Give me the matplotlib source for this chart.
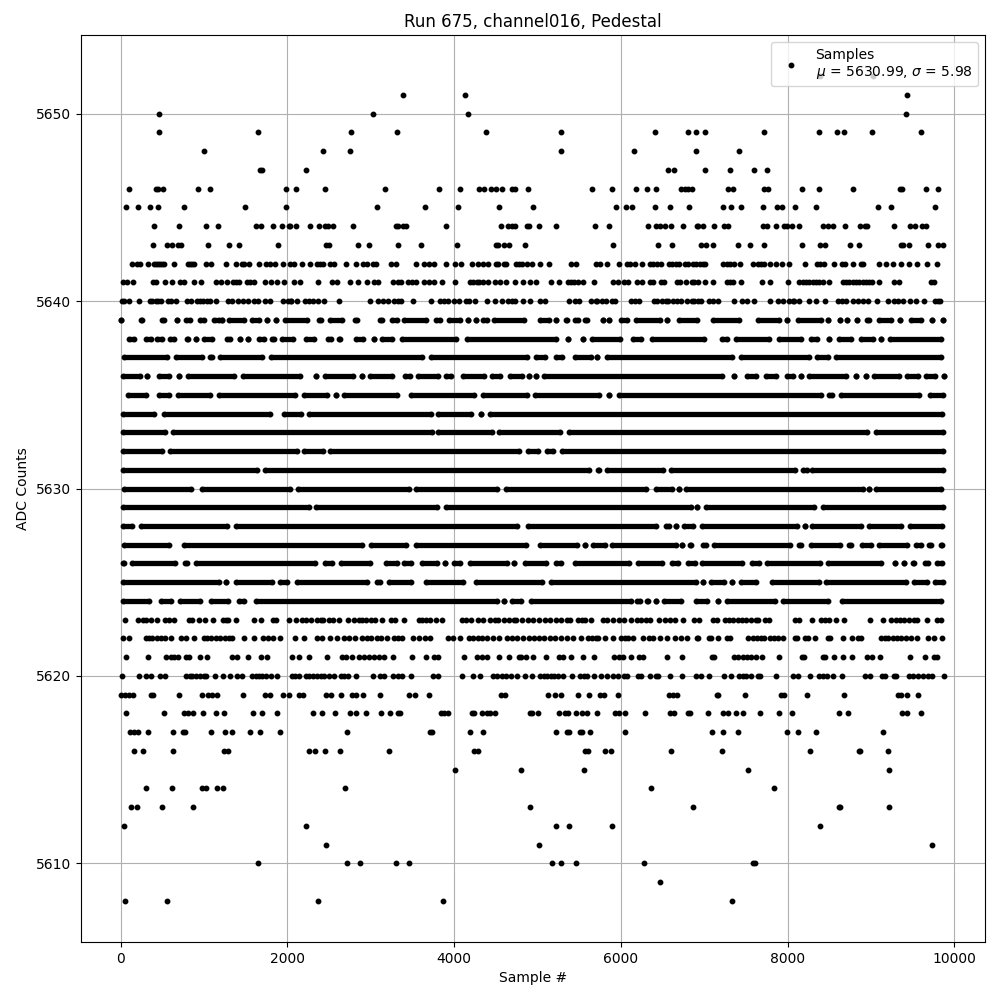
import matplotlib
matplotlib.use("Agg")
import matplotlib.pyplot as plt

# Sample numbers, one list per ADC level (sparse rows)
s5652 = [8392, 9028]
s5651 = [3388, 4132, 9436]
s5650 = [460, 3028, 4168, 9424]
s5649 = [460, 1648, 2764, 3316, 4384, 5284, 6412, 6808, 6904, 7012, 7720, 8380, 8596, 8680, 9016, 9604]
s5648 = [1000, 2428, 2752, 5284, 6160, 6904, 7420]
s5647 = [1668, 1692, 2224, 6568, 6640, 7012, 7312, 7600, 7756]
s5646 = [100, 420, 444, 508, 928, 1072, 1984, 2104, 2452, 3172, 3820, 4072, 4300, 4360, 4444, 4504, 4576, 4696,
         4728, 4888, 5656, 5896, 6184, 6316, 6424, 6724, 6772, 6808, 6856, 7288, 7348, 7720, 7768, 8176, 8380, 8788,
         9352, 9376, 9664, 9808]
s5645 = [64, 208, 352, 448, 760, 1492, 1984, 3076, 3652, 4048, 4540, 4948, 5944, 6064, 6136, 6412, 6592, 6820,
         7228, 7324, 7444, 7708, 7876, 7936, 8092, 8344, 9088, 9244, 9772]
s5644 = [400, 700, 1024, 1168, 1624, 1684, 1828, 1936, 2020, 2032, 2104, 2272, 2380, 2452, 2488, 2548, 2788, 3304,
         3328, 3388, 3428, 3904, 4564, 4648, 4696, 4732, 4876, 4900, 5020, 5224, 5692, 5860, 6328, 6424, 6472, 6532,
         6604, 6748, 6916, 6928, 6988, 7120, 7240, 7288, 7708, 7756, 7864, 7960, 7996, 8056, 8140, 8428, 8488, 8548,
         8692, 8872, 8932, 8956, 9280, 9472, 9532, 9616, 9664]
s5643 = [388, 556, 616, 688, 724, 1048, 1300, 1420, 1888, 2464, 2500, 2848, 2980, 3328, 3604, 4036, 4504, 4528,
         4600, 4660, 4852, 5908, 6448, 6616, 6964, 7024, 7108, 7408, 7552, 7720, 8176, 8392, 8452, 8752, 8860, 9364,
         9388, 9460, 9688, 9808, 9868]
s5642 = [136, 196, 232, 328, 400, 425, 450, 475, 500, 520, 640, 808, 835, 860, 880, 1024, 1084, 1264, 1384, 1456,
         1480, 1540, 1664, 1748, 1788, 1852, 1948, 2032, 2080, 2176, 2272, 2356, 2390, 2428, 2512, 2560, 2704, 2824,
         2908, 2956, 3028, 3068, 3244, 3304, 3544, 3640, 3700, 3760, 3904, 4012, 4084, 4216, 4288, 4348, 4408, 4504,
         4528, 4600, 4628, 4744, 4780, 4820, 4880, 4936, 5032, 5140, 5404, 5464, 5704, 5748, 5836, 5980, 6076, 6110,
         6172, 6256, 6352, 6392, 6430, 6484, 6580, 6610, 6660, 6700, 6772, 6810, 6860, 6900, 6950, 6980, 7008, 7228,
         7270, 7310, 7360, 7428, 7588, 7640, 7680, 7720, 7788, 7860, 7928, 8012, 8212, 8348, 8390, 8436, 8560, 8656,
         8690, 8788, 8884, 8908, 9100, 9184, 9268, 9364, 9460, 9556, 9672, 9796]
s5641 = [28, 76, 148, 388, 424, 532, 616, 712, 760, 880, 960, 1144, 1204, 1276, 1348, 1390, 1420, 1516, 1552, 1600,
         1732, 1804, 1876, 1960, 2080, 2152, 2368, 2536, 2596, 2752, 2848, 2956, 3040, 3088, 3268, 3328, 3368, 3448,
         3500, 3540, 3640, 3700, 3760, 3856, 4012, 4192, 4230, 4270, 4300, 4348, 4408, 4488, 4548, 4628, 4736, 4828,
         4912, 4984, 5164, 5260, 5368, 5400, 5440, 5490, 5548, 5680, 5908, 5968, 6040, 6088, 6196, 6256, 6352, 6388,
         6484, 6524, 6676, 6712, 6784, 6848, 6880, 6920, 7008, 7108, 7276, 7310, 7350, 7440, 7696, 7792, 8008, 8140,
         8180, 8220, 8260, 8300, 8340, 8380, 8420, 8500, 8660, 8700, 8740, 8780, 8820, 8860, 8900, 8940, 8980, 9010,
         9100, 9280, 9340, 9724, 9760]
s5640 = [16, 40, 100, 220, 348, 380, 420, 450, 488, 568, 600, 660, 796, 848, 916, 950, 988, 1040, 1068, 1144, 1288,
         1336, 1408, 1468, 1528, 1600, 1648, 1736, 1788, 1948, 2008, 2040, 2048, 2116, 2212, 2260, 2308, 2368, 2440,
         2620, 2992, 3088, 3148, 3208, 3280, 3328, 3368, 3508, 3724, 3832, 3880, 3928, 4000, 4060, 4144, 4180, 4248,
         4396, 4492, 4576, 4648, 4690, 4728, 4828, 4912, 5032, 5092, 5380, 5452, 5500, 5644, 5700, 5716, 5776, 5820,
         5896, 5932, 6124, 6172, 6220, 6400, 6440, 6490, 6540, 6568, 6628, 6670, 6728, 6796, 6848, 6880, 6920, 6960,
         7060, 7100, 7168, 7360, 7456, 7508, 7600, 7792, 7888, 7948, 8020, 8060, 8080, 8140, 8260, 8344, 8452, 8608,
         8650, 8700, 8788, 8848, 8908, 8968, 9076, 9208, 9280, 9320, 9390, 9472, 9544, 9640, 9772, 9800, 9828]
s5623 = [52, 208, 270, 310, 370, 436, 532, 580, 636, 820, 860, 940, 1012, 1108, 1228, 1260, 1290, 1388, 1600, 1684,
         1828, 1864, 2020, 2104, 2176, 2230, 2290, 2360, 2400, 2428, 2500, 2548, 2620, 2728, 2800, 2860, 2900, 2950,
         3010, 3052, 3136, 3244, 3292, 3400, 3580, 3620, 3660, 3710, 3784, 3856, 4096, 4140, 4200, 4290, 4348, 4428,
         4490, 4530, 4600, 4660, 4720, 4748, 4820, 4890, 4948, 5020, 5090, 5150, 5220, 5280, 5350, 5390, 5488, 5530,
         5576, 5648, 5788, 5830, 5908, 5980, 6040, 6124, 6190, 6240, 6300, 6348, 6460, 6532, 6590, 6652, 6748, 6880,
         6940, 7108, 7156, 7252, 7300, 7350, 7400, 7450, 7500, 7560, 7620, 7648, 7732, 7780, 8092, 8140, 8296, 8404,
         8450, 8500, 8584, 8680, 8992, 9144, 9244, 9300, 9350, 9400, 9460, 9520, 9556, 9676, 9796, 9844]
s5622 = [28, 100, 304, 340, 380, 440, 490, 530, 604, 724, 784, 880, 1000, 1040, 1090, 1140, 1190, 1250, 1300, 1340,
         1480, 1600, 1708, 1768, 1828, 1912, 2092, 2200, 2356, 2416, 2512, 2596, 2680, 2740, 2810, 2900, 2960, 3010,
         3080, 3130, 3200, 3280, 3330, 3376, 3508, 3580, 3652, 3712, 3928, 3988, 4072, 4180, 4230, 4290, 4340, 4396,
         4468, 4540, 4636, 4700, 4760, 4830, 4900, 4960, 5020, 5080, 5150, 5216, 5280, 5350, 5428, 5524, 5608, 5650,
         5700, 5728, 5812, 5908, 6004, 6050, 6088, 6148, 6268, 6340, 6388, 6472, 6556, 6652, 6724, 6796, 6916, 6928,
         7060, 7084, 7168, 7276, 7312, 7528, 7580, 7630, 7680, 7720, 7790, 7840, 7880, 7948, 8092, 8116, 8212, 8248,
         8332, 8488, 8512, 8668, 8776, 8848, 8884, 9124, 9170, 9210, 9260, 9310, 9360, 9420, 9480, 9548, 9688, 9760,
         9856]
s5621 = [64, 328, 544, 604, 640, 688, 784, 820, 952, 1036, 1336, 1396, 1528, 1684, 1756, 2056, 2140, 2260, 2476,
         2656, 2700, 2776, 2860, 2920, 2980, 3040, 3100, 3160, 3268, 3496, 3664, 3760, 3808, 4120, 4276, 4336, 4396,
         4540, 4660, 4780, 4804, 4864, 4948, 5104, 5260, 5308, 5404, 5548, 5680, 5920, 5980, 6028, 6124, 6220, 6268,
         6556, 6736, 7096, 7120, 7360, 7410, 7460, 7510, 7560, 7620, 7688, 7900, 8176, 8200, 8428, 8452, 8560, 8668,
         8776, 8956, 9016, 9112, 9472, 9652, 9760, 9796]
s5620 = [16, 220, 304, 364, 472, 532, 784, 830, 860, 900, 950, 1000, 1030, 1128, 1228, 1312, 1396, 1456, 1576, 1620,
         1660, 1700, 1750, 1800, 1876, 2056, 2090, 2140, 2224, 2260, 2308, 2356, 2400, 2440, 2500, 2564, 2644, 2680,
         2728, 2824, 3028, 3112, 3160, 3268, 3328, 3380, 3484, 3748, 3808, 4096, 4228, 4312, 4468, 4510, 4570, 4620,
         4680, 4756, 4852, 4936, 5032, 5080, 5120, 5160, 5200, 5250, 5308, 5416, 5512, 5560, 5600, 5680, 5764, 5836,
         5908, 5968, 6040, 6076, 6208, 6244, 6352, 6424, 6448, 6592, 6736, 6900, 6964, 7060, 7240, 7324, 7420, 7460,
         7500, 7564, 7648, 7672, 7864, 8068, 8128, 8272, 8380, 8420, 8470, 8548, 8656, 8932, 8992, 9136, 9172, 9280,
         9304, 9460, 9510, 9570, 9630, 9680, 9736, 9880]
s5619 = [4, 52, 100, 148, 364, 388, 700, 976, 1048, 1096, 1156, 1468, 1732, 1792, 1948, 2020, 2140, 2188, 2464, 2524,
         2644, 2776, 2824, 2908, 3112, 3460, 3532, 3700, 4564, 4612, 5128, 5212, 5284, 5488, 5620, 5752, 5800, 5968,
         6580, 6628, 6676, 7156, 7168, 7492, 7924, 7960, 8236, 8680, 9328, 9364, 9436, 9568]
s5618 = [64, 520, 760, 808, 868, 988, 1144, 1240, 1588, 1696, 1876, 2308, 2416, 2572, 2752, 2824, 2944, 3124, 3232,
         3328, 3348, 3844, 3880, 3928, 4216, 4240, 4336, 4396, 4428, 4492, 4912, 4932, 5008, 5260, 5332, 5368, 5464,
         5536, 5596, 5716, 5932, 5980, 6052, 6292, 6592, 6640, 6808, 6828, 7048, 7228, 7288, 7384, 7468, 7672, 7900,
         8056, 8620, 8728, 9376, 9436, 9604]
s5617 = [112, 160, 208, 328, 628, 748, 776, 1084, 1252, 1336, 1552, 1672, 1912, 2716, 3712, 3736, 4192, 4348, 5224,
         5356, 5380, 5512, 5536, 5632, 6052, 7096, 7228, 7408, 7996, 8128, 8344, 9148]
s5616 = [160, 268, 628, 1240, 1288, 2260, 2332, 2452, 2632, 3220, 4240, 4288, 5572, 5608, 5812, 5884, 6604, 7216,
         8272, 8860, 8872, 9208]
s5615 = [4012, 4804, 5560, 7528, 9220]
s5614 = [304, 616, 976, 1024, 1156, 1228, 2692, 6364, 7840]
s5613 = [124, 196, 496, 868, 4912, 6868, 8620, 8632, 9220]
s5612 = [40, 2224, 5224, 5380, 5896, 8392]
s5611 = [2464, 5020, 9736]
s5610 = [1648, 2716, 2872, 3304, 3460, 5176, 5284, 5464, 6280, 7588, 7612]
s5609 = [6472]
s5608 = [52, 556, 2368, 3868, 7336]

sparse_levels = [5652, 5651, 5650, 5649, 5648, 5647, 5646, 5645, 5644, 5643, 5642, 5641, 5640,
                 5623, 5622, 5621, 5620, 5619, 5618, 5617, 5616, 5615, 5614, 5613, 5612, 5611, 5610, 5609, 5608]
sparse_samples = [s5652, s5651, s5650, s5649, s5648, s5647, s5646, s5645, s5644, s5643, s5642, s5641, s5640,
                  s5623, s5622, s5621, s5620, s5619, s5618, s5617, s5616, s5615, s5614, s5613, s5612, s5611, s5610,
                  s5609, s5608]

# Rows 5624-5639 are too dense to tell the samples apart, so these are the
# (first, last) sample of each unbroken stretch of overlapping dots
r5639 = [(8, 8), (220, 292), (468, 548), (676, 676), (780, 828), (928, 1028), (1120, 1180), (1220, 1220), (1268, 1508),
         (1548, 1688), (1756, 1756), (1860, 1860), (1948, 2268), (2356, 2436), (2488, 2688), (2788, 2868), (3088, 3168),
         (3220, 3348), (3368, 3688), (3748, 3860), (3908, 4100), (4168, 4168), (4264, 4264), (4348, 4396), (4448, 4868),
         (5000, 5168), (5228, 5228), (5308, 5388), (5448, 5488), (5540, 5620), (5788, 5788), (5860, 5860), (5968, 6100),
         (6148, 6500), (6560, 6560), (6668, 6948), (7076, 7448), (7620, 7928), (7988, 7988), (8100, 8428), (8488, 8488),
         (8628, 8628), (8716, 8716), (8836, 8836), (8928, 9008), (9068, 9268), (9348, 9348), (9448, 9628), (9736, 9736),
         (9868, 9868)]
r5638 = [(76, 196), (308, 368), (408, 528), (568, 668), (768, 836), (876, 940), (968, 1128), (1248, 1348), (1436, 1436),
         (1528, 1528), (1628, 1748), (1788, 1868), (1908, 2100), (2196, 2348), (2488, 2528), (2596, 2668), (2796, 2940),
         (3040, 3040), (3108, 3288), (3348, 4048), (4128, 5248), (5368, 5368), (5548, 5548), (5628, 6020), (6116, 6268),
         (6348, 7028), (7188, 7300), (7348, 7808), (7868, 8196), (8256, 8380), (8496, 8496), (8588, 8788), (8856, 9060),
         (9116, 9116), (9196, 9868)]
r5637 = [(8, 588), (636, 1008), (1048, 1128), (1168, 1728), (1780, 3648), (3688, 4908), (4956, 5116), (5188, 5328),
         (5420, 5668), (5716, 5716), (5808, 7368), (7408, 8288), (8328, 8516), (8556, 9868)]
r5636 = [(0, 268), (320, 320), (428, 608), (700, 700), (780, 1388), (1440, 2188), (2340, 2340), (2420, 2820),
         (2892, 2892), (2968, 3288), (3376, 3500), (3540, 3836), (3868, 3988), (4076, 4388), (4428, 4580), (4636, 4840),
         (4900, 4900), (4988, 4988), (5048, 7248), (7356, 7356), (7480, 7648), (7708, 7888), (7960, 8100), (8164, 8164),
         (8228, 8728), (8824, 8824), (8936, 8936), (9008, 9368), (9408, 9596), (9628, 9796), (9880, 9880)]
r5635 = [(60, 340), (428, 608), (660, 1100), (1148, 2128), (2168, 2508), (2588, 2588), (2648, 3348), (3448, 4268),
         (4320, 4900), (4940, 5768), (5856, 5856), (5948, 8428), (8468, 8560), (8608, 9608), (9676, 9900)]
r5634 = [(0, 428), (488, 1828), (1928, 2196), (2236, 3748), (3780, 4228), (4328, 4328), (4396, 9888)]
r5633 = [(0, 568), (600, 3768), (3780, 4488), (4508, 5300), (5348, 8980), (9028, 9900)]
r5632 = [(0, 528), (560, 2148), (2168, 2460), (2488, 4808), (4860, 5036), (5088, 5220), (5268, 9900)]
r5631 = [(0, 1668), (1700, 5648), (5700, 5768), (5808, 6540), (6568, 8116), (8180, 8228), (8268, 9900)]
r5630 = [(8, 880), (948, 2068), (2100, 3488), (3516, 4540), (4596, 6328), (6388, 6648), (6700, 6700), (6748, 8940),
         (8980, 8980), (9028, 9868)]
r5629 = [(0, 2288), (2320, 3828), (3876, 6868), (6916, 6916), (6988, 8348), (8396, 9900)]
r5628 = [(0, 168), (216, 1308), (1356, 4788), (4860, 6448), (6508, 6608), (6668, 6668), (6728, 6900), (6940, 8140),
         (8208, 8208), (8268, 8908), (8948, 9396), (9436, 9888)]
r5627 = [(8, 608), (732, 2928), (2980, 3448), (3508, 4888), (4996, 5500), (5568, 5568), (5636, 5836), (5868, 6688),
         (6736, 6736), (6796, 6876), (6956, 7048), (7088, 8060), (8108, 8188), (8248, 8660), (8708, 8796), (8868, 9028),
         (9068, 9468), (9516, 9628), (9668, 9756), (9808, 9888)]
r5626 = [(0, 68), (108, 688), (740, 828), (876, 2368), (2420, 2568), (2620, 3028), (3156, 3348), (3368, 3508),
         (3580, 3820), (3888, 3888), (3968, 4096), (4160, 4668), (4720, 4720), (4816, 5128), (5188, 5316), (5416, 6128),
         (6180, 6528), (6580, 6716), (6780, 6916), (6948, 7488), (7540, 7688), (7728, 8420), (8460, 9148), (9288, 9288),
         (9396, 9396), (9476, 9548), (9616, 9716), (9768, 9888)]
r5625 = [(0, 1208), (1268, 1268), (1356, 1848), (1888, 2028), (2088, 2988), (3048, 3148), (3188, 3516), (3636, 4140),
         (4228, 5088), (5128, 6928), (6988, 6988), (7048, 7268), (7336, 7336), (7408, 7648), (7788, 8408), (8436, 9448),
         (9488, 9708), (9740, 9900)]
r5624 = [(0, 368), (452, 636), (688, 988), (1056, 1316), (1388, 1508), (1596, 4540), (4596, 4596), (4668, 4836),
         (4888, 6148), (6196, 6228), (6288, 6356), (6428, 6428), (6488, 6748), (6876, 7068), (7168, 7168), (7248, 7876),
         (7916, 8516), (8628, 9868)]

dense_levels = [5639, 5638, 5637, 5636, 5635, 5634, 5633, 5632, 5631, 5630, 5629, 5628, 5627, 5626, 5625, 5624]
dense_runs = [r5639, r5638, r5637, r5636, r5635, r5634, r5633, r5632, r5631, r5630, r5629, r5628, r5627, r5626, r5625,
              r5624]

fig, ax = plt.subplots(figsize=(10, 10), dpi=100)

x = []
y = []
for level, samples in zip(sparse_levels, sparse_samples):
    x += samples
    y += [level] * len(samples)

# the stretches were read at the outer edge of their end dots, so pull the
# centres of those dots in by a dot radius (about 30 samples)
for level, runs in zip(dense_levels, dense_runs):
    for start, end in runs:
        if end - start > 60:
            start += 30
            end -= 30
        x += [start, end]
        y += [level, level]
        ax.hlines(level, start, end, color="k", linewidth=3.8, zorder=2)

ax.plot(x, y, "k.", markersize=6.4, label="Samples\n$\\mu$ = 5630.99, $\\sigma$ = 5.98")

ax.set_xlim(-480, 10368)
ax.set_ylim(5605.8, 5654.2)
ax.set_title("Run 675, channel016, Pedestal")
ax.set_xlabel("Sample #")
ax.set_ylabel("ADC Counts")
ax.grid(True)
ax.legend(loc="upper right")
fig.subplots_adjust(left=0.0805, right=0.985, top=0.965, bottom=0.058)
fig.savefig("out.png")
